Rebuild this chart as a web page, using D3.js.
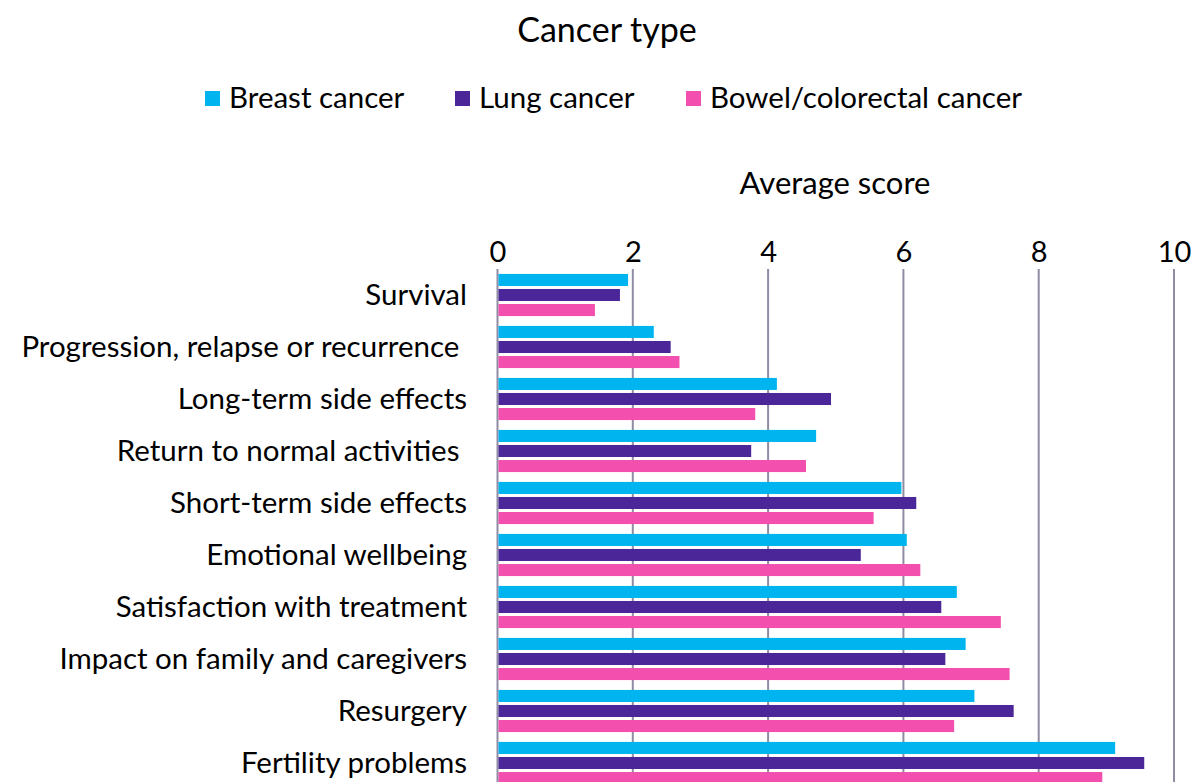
<!DOCTYPE html>
<html lang="en">
<head>
<meta charset="utf-8">
<title>Cancer type - average score</title>
<script src="https://d3js.org/d3.v7.min.js"></script>
<style>
  body { margin: 0; background: #fff; }
  svg { display: block; font-family: Lato, "Open Sans", sans-serif; }
  .lbl { white-space: pre; }
</style>
</head>
<body>
<div id="chart"></div>
<script>
// data
var categories = [
  "Survival",
  "Progression, relapse or recurrence ",
  "Long-term side effects",
  "Return to normal activities ",
  "Short-term side effects",
  "Emotional wellbeing",
  "Satisfaction with treatment",
  "Impact on family and caregivers",
  "Resurgery",
  "Fertility problems"
];
var seriesNames = ["Breast cancer", "Lung cancer", "Bowel/colorectal cancer"];
var breast = [1.93, 2.31, 4.13, 4.71, 5.97, 6.05, 6.79, 6.92, 7.05, 9.13];
var lung   = [1.81, 2.56, 4.93, 3.75, 6.19, 5.37, 6.56, 6.62, 7.63, 9.56];
var bowel  = [1.44, 2.69, 3.81, 4.56, 5.56, 6.25, 7.44, 7.57, 6.75, 8.94];
var xTicks = [0, 2, 4, 6, 8, 10];

var colors = ["#00b5ef", "#4b2699", "#f24fae"];
var values = [breast, lung, bowel];

var width = 1193, height = 782;
var svg = d3.select("#chart").append("svg")
  .attr("width", width)
  .attr("height", height);

var x = d3.scaleLinear().domain([0, 10]).range([497.5, 1174]);
var y = d3.scaleBand().domain(categories).range([269, 789])
  .paddingInner(0.19).paddingOuter(0.095);
var ySub = d3.scaleBand().domain(d3.range(3)).range([0, y.bandwidth()])
  .paddingInner(0.2);

// title
svg.append("text")
  .attr("x", 607).attr("y", 42)
  .attr("text-anchor", "middle")
  .attr("font-size", 34)
  .attr("fill", "#000")
  .text("Cancer type");

// legend
var legendX = [205, 455, 686];
var legend = svg.selectAll(".leg").data(seriesNames).enter().append("g")
  .attr("class", "leg")
  .attr("transform", function(d, i){ return "translate(" + legendX[i] + ",91)"; });
legend.append("rect")
  .attr("width", 15).attr("height", 15)
  .attr("fill", function(d, i){ return colors[i]; });
legend.append("text")
  .attr("x", 24).attr("y", 17)
  .attr("font-size", 29.5)
  .attr("fill", "#000")
  .text(function(d){ return d; });

// axis title
svg.append("text")
  .attr("x", 835).attr("y", 194)
  .attr("text-anchor", "middle")
  .attr("font-size", 31)
  .attr("fill", "#000")
  .text("Average score");

// gridlines
svg.selectAll(".grid").data(xTicks).enter().append("line")
  .attr("class", "grid")
  .attr("x1", function(d){ return x(d); })
  .attr("x2", function(d){ return x(d); })
  .attr("y1", 269).attr("y2", height)
  .attr("stroke", "#8f8ca3")
  .attr("stroke-width", 2);

// top axis
var axis = svg.append("g")
  .attr("transform", "translate(0,269)")
  .call(d3.axisTop(x).tickValues(xTicks).tickSize(0).tickPadding(7));
axis.select(".domain").remove();
axis.selectAll("text")
  .attr("font-family", "Lato, 'Open Sans', sans-serif")
  .attr("font-size", 29)
  .attr("fill", "#000");

// bars
var groups = svg.selectAll(".grp").data(categories).enter().append("g")
  .attr("class", "grp")
  .attr("transform", function(d){ return "translate(0," + y(d) + ")"; });

groups.selectAll("rect")
  .data(function(d, ci){ return values.map(function(v, si){ return {s: si, v: v[ci]}; }); })
  .enter().append("rect")
  .attr("x", x(0) + 1)
  .attr("y", function(d){ return ySub(d.s); })
  .attr("width", function(d){ return x(d.v) - x(0) - 1; })
  .attr("height", ySub.bandwidth())
  .attr("fill", function(d){ return colors[d.s]; });

// category labels
svg.selectAll(".lbl").data(categories).enter().append("text")
  .attr("class", "lbl")
  .attr("x", 467)
  .attr("y", function(d){ return y(d) + y.bandwidth() / 2; })
  .attr("dy", "0.35em")
  .attr("text-anchor", "end")
  .attr("font-size", 29.5)
  .attr("fill", "#000")
  .text(function(d){ return d; });
</script>
</body>
</html>
